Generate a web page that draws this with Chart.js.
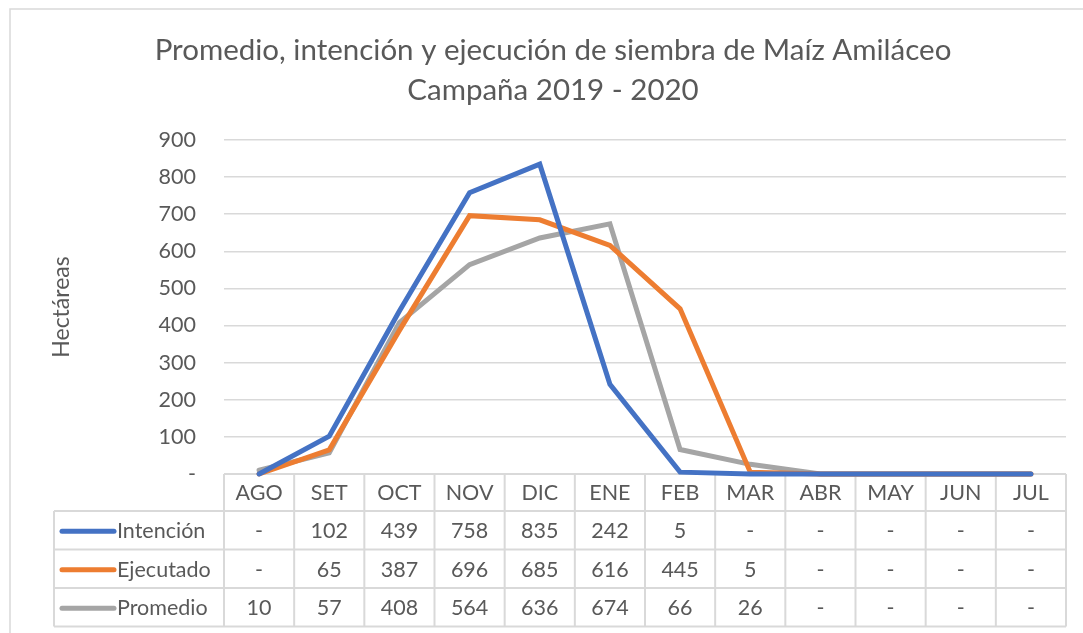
<!DOCTYPE html>
<html>
<head>
<meta charset="utf-8">
<script src="https://cdn.jsdelivr.net/npm/chart.js@4"></script>
<style>
html,body{margin:0;padding:0;background:#fff;}
#wrap{width:1083px;height:633px;position:relative;}
</style>
</head>
<body>
<div id="wrap"><canvas id="c" width="1083" height="633"></canvas></div>
<script>
const categories = ['AGO','SET','OCT','NOV','DIC','ENE','FEB','MAR','ABR','MAY','JUN','JUL'];
const seriesNames = ['Intención','Ejecutado','Promedio'];
const intencion = [0,102,439,758,835,242,5,0,0,0,0,0];
const ejecutado = [0,65,387,696,685,616,445,5,0,0,0,0];
const promedio  = [10,57,408,564,636,674,66,26,0,0,0,0];
const yTicks = [0,100,200,300,400,500,600,700,800,900];
const titleLines = ['Promedio, intención y ejecución de siembra de Maíz Amiláceo','Campaña 2019 - 2020'];
const yTitle = 'Hectáreas';
const colors = ['#4472C4','#ED7D31','#A5A5A5'];
const seriesData = [intencion, ejecutado, promedio];

const FONT = 'Lato, "Open Sans", sans-serif';
const TXT = '#595959';
const GRID = '#d9d9d9';

const fmt = v => v === 0 ? '-' : String(v);

const tablePlugin = {
  id: 'tablePlugin',
  beforeDraw(chart) {
    const ctx = chart.ctx;
    ctx.save();
    ctx.strokeStyle = GRID;
    ctx.lineWidth = 1.5;
    ctx.strokeRect(10, 9, 1100, 700);
    ctx.fillStyle = TXT;
    ctx.font = '29.5px ' + FONT;
    ctx.textAlign = 'center';
    ctx.textBaseline = 'middle';
    ctx.fillText(titleLines[0], 553, 50);
    ctx.fillText(titleLines[1], 553, 90);
    ctx.save();
    ctx.translate(62, 307);
    ctx.rotate(-Math.PI/2);
    ctx.font = '23px ' + FONT;
    ctx.fillText(yTitle, 0, 0);
    ctx.restore();
    ctx.restore();
  },
  beforeDatasetsDraw(chart) {
    const ctx = chart.ctx;
    const x = chart.scales.x;
    const area = chart.chartArea;
    const n = categories.length;
    const colW = (area.right - area.left) / n;
    const top = area.bottom;
    const rowH = [37, 38.5, 38.5, 38.5];
    const ys = [top];
    rowH.forEach(h => ys.push(ys[ys.length-1] + h));
    const legLeft = 54;
    ctx.save();
    ctx.strokeStyle = GRID;
    ctx.lineWidth = 2;
    ctx.beginPath();
    ctx.moveTo(area.left, ys[0]); ctx.lineTo(area.right, ys[0]);
    for (let i = 1; i < ys.length; i++) {
      ctx.moveTo(legLeft, ys[i]); ctx.lineTo(area.right, ys[i]);
    }
    for (let j = 0; j <= n; j++) {
      const xx = area.left + j*colW;
      ctx.moveTo(xx, ys[0]); ctx.lineTo(xx, ys[ys.length-1]);
    }
    ctx.moveTo(legLeft, ys[1]); ctx.lineTo(legLeft, ys[ys.length-1]);
    ctx.stroke();

    ctx.fillStyle = TXT;
    ctx.font = '21.5px ' + FONT;
    ctx.textAlign = 'center';
    ctx.textBaseline = 'middle';
    categories.forEach((c, j) => {
      ctx.fillText(c, x.getPixelForValue(j), (ys[0]+ys[1])/2 + 1);
    });
    seriesData.forEach((arr, r) => {
      const cy = (ys[r+1]+ys[r+2])/2 + 1;
      arr.forEach((v, j) => {
        ctx.fillText(fmt(v), x.getPixelForValue(j), cy);
      });
      ctx.save();
      ctx.strokeStyle = colors[r];
      ctx.lineWidth = 5;
      ctx.lineCap = 'round';
      ctx.beginPath();
      ctx.moveTo(62, cy); ctx.lineTo(114, cy);
      ctx.stroke();
      ctx.restore();
      ctx.textAlign = 'left';
      ctx.fillText(seriesNames[r], 117, cy);
      ctx.textAlign = 'center';
    });
    ctx.restore();
  }
};

new Chart(document.getElementById('c'), {
  type: 'line',
  data: {
    labels: categories,
    datasets: seriesNames.map((name, i) => ({
      label: name,
      data: seriesData[i],
      borderColor: colors[i],
      backgroundColor: colors[i],
      borderWidth: 5,
      pointRadius: 0,
      tension: 0,
      borderCapStyle: 'round',
      borderJoinStyle: 'miter',
      clip: 10
    }))
  },
  options: {
    responsive: false,
    animation: false,
    devicePixelRatio: 1,
    layout: { padding: { left: 0, top: 140, right: 17, bottom: 159 } },
    plugins: { legend: { display: false }, title: { display: false }, tooltip: { enabled: false } },
    scales: {
      x: { type: 'category', offset: true, display: false },
      y: {
        min: 0, max: 900,
        afterFit(s) { s.width = 224; },
        afterBuildTicks(s) { s.ticks = yTicks.map(v => ({ value: v })); },
        ticks: { padding: 28, color: TXT, font: { family: FONT, size: 21.5 }, callback: v => fmt(v) },
        grid: { color: GRID, lineWidth: 1.5, drawTicks: false },
        border: { display: false }
      }
    }
  },
  plugins: [tablePlugin]
});
</script>
</body>
</html>
